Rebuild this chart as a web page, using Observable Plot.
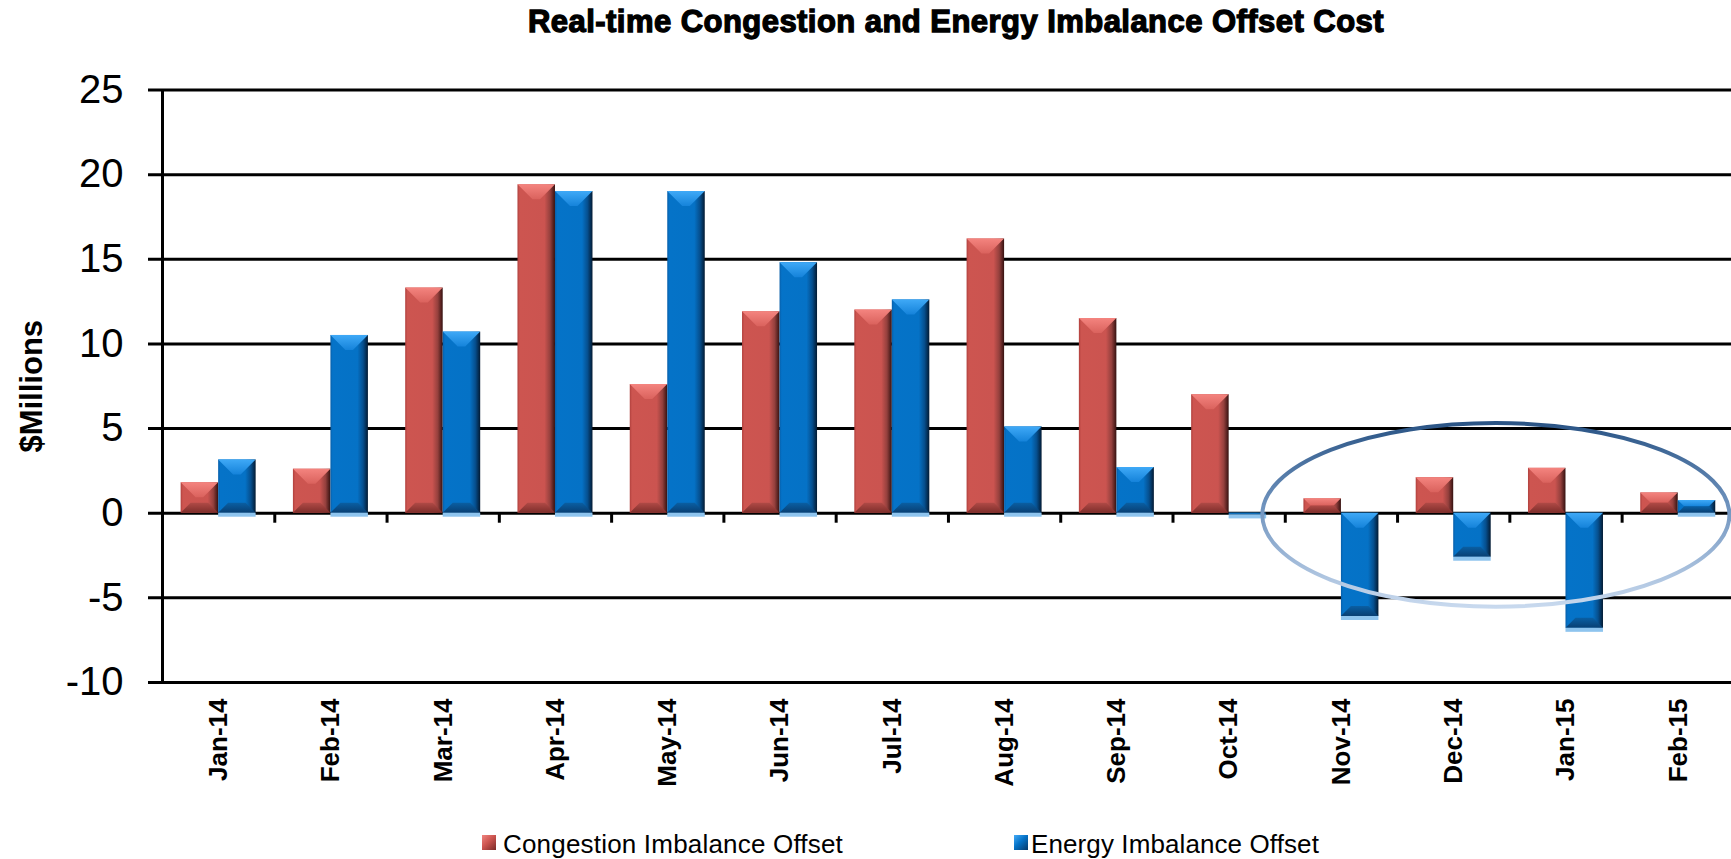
<!DOCTYPE html>
<html>
<head>
<meta charset="utf-8">
<script src="https://cdn.jsdelivr.net/npm/d3@7"></script>
<script src="https://cdn.jsdelivr.net/npm/@observablehq/plot@0.6"></script>
<style>
  html, body { margin: 0; padding: 0; background: #fff; }
  body { width: 1731px; height: 859px; overflow: hidden; font-family: "Liberation Sans", Arial, sans-serif; color: #000; }
  #title { position: relative; height: 50px; }
  #title span { position: absolute; left: 528px; top: 5.5px; font-size: 31px; line-height: 31px; font-weight: bold; white-space: nowrap; -webkit-text-stroke: 1.3px #000; }
  #chart { height: 770px; }
  #chart svg { max-width: none !important; display: block; }
  #legend { position: relative; height: 39px; }
  #legend .lg { position: absolute; top: 11px; font-size: 26px; line-height: 26px; white-space: nowrap; }
  #legend .sw { position: absolute; top: 15px; width: 14px; height: 15px; }
</style>
</head>
<body>
<div id="title"><span id="titleText"></span></div>
<div id="chart"></div>
<div id="legend"></div>
<script>
// ---------- data ----------
const months = ["Jan-14","Feb-14","Mar-14","Apr-14","May-14","Jun-14","Jul-14","Aug-14","Sep-14","Oct-14","Nov-14","Dec-14","Jan-15","Feb-15"];
const congestion = [1.8, 2.6, 13.3, 19.4, 7.6, 11.9, 12.0, 16.2, 11.5, 7.0, 0.85, 2.1, 2.65, 1.2];
const energy = [3.15, 10.5, 10.7, 19.0, 19.0, 14.8, 12.6, 5.1, 2.7, -0.1, -6.1, -2.6, -6.8, 0.75];
const seriesNames = ["Congestion Imbalance Offset", "Energy Imbalance Offset"];
const yTicks = [-10, -5, 0, 5, 10, 15, 20, 25];
const titleText = "Real-time Congestion and Energy Imbalance Offset Cost";
const yLabel = "$Millions";
// annotation ellipse (month + offset in category steps from its centre, value range)
const ellipseFrom = ["Oct-14", 0.3];
const ellipseTo = ["Feb-15", 0.46];
const ellipseY = [5.3, -5.55];

// ---------- layout ----------
const W = 1731, H = 770, mL = 162, mT = 39.5, mB = 138;
const xRange = [mL, 1733.9];
const step = (xRange[1] - xRange[0]) / months.length;
const padInner = 0.332;
const half = step * (1 - padInner) / 2;

const rows = months.map((m, i) => ({month: m, congestion: congestion[i], energy: energy[i]}));

const chart = Plot.plot({
  width: W, height: H,
  marginLeft: mL, marginRight: 0, marginTop: mT, marginBottom: mB,
  style: {fontFamily: "'Liberation Sans', Arial, sans-serif", color: "#000", background: "#fff", maxWidth: "none"},
  x: {domain: months, range: xRange, paddingInner: padInner, paddingOuter: padInner / 2, round: false},
  y: {domain: [yTicks[0], yTicks[yTicks.length - 1]]},
  marks: [
    Plot.ruleY(yTicks, {stroke: "#000", strokeWidth: 3, insetLeft: -14}),
    Plot.ruleX(months.slice(0, -1), {y1: 0, y2: 0, insetBottom: -10, dx: step / 2, stroke: "#000", strokeWidth: 3}),
    Plot.ruleX([months[0]], {y1: yTicks[0], y2: yTicks[yTicks.length - 1], dx: -step / 2, stroke: "#000", strokeWidth: 3}),
    Plot.barY(rows, {x: "month", y: "congestion", fill: "url(#gRed)", insetRight: half}),
    Plot.barY(rows, {x: "month", y: "energy", fill: "url(#gBlue)", insetLeft: half}),
    Plot.barY(rows, {x: "month", y1: d => Math.min(0, d.energy), y2: d => Math.min(0, d.energy), insetLeft: half, insetBottom: -4, fill: "#8EC4EE"}),
    Plot.axisY(yTicks, {anchor: "left", tickSize: 0, tickPadding: 39, fontSize: 40, tickFormat: d => String(d), label: null, stroke: "#000", strokeWidth: 0.6}),
    Plot.axisX({anchor: "bottom", tickSize: 0, tickPadding: 16, tickRotate: -90, fontSize: 26, fontWeight: "bold", label: null}),
    Plot.text([yLabel], {text: d => d, frameAnchor: "left", textAnchor: "middle", lineAnchor: "middle", rotate: -90, dx: -130, dy: 0, fontSize: 31, fontWeight: "bold"})
  ]
});
document.getElementById("chart").appendChild(chart);

// ---------- gradients ----------
const svg = d3.select(chart);
const defs = svg.insert("defs", ":first-child");
function grad(id, stops, vertical) {
  const g = defs.append("linearGradient").attr("id", id)
    .attr("x1", 0).attr("y1", 0).attr("x2", vertical ? 0 : 1).attr("y2", vertical ? 1 : 0);
  stops.forEach(([o, c, a]) => g.append("stop").attr("offset", o).attr("stop-color", c).attr("stop-opacity", a ?? 1));
}
grad("gRed", [[0, "#B0403D"], [0.06, "#CD5550"], [0.72, "#CB5450"], [0.87, "#94403D"], [1, "#351110"]]);
grad("gBlue", [[0, "#085FAA"], [0.06, "#0573C8"], [0.72, "#0572C6"], [0.87, "#064F8E"], [1, "#031A32"]]);
grad("gRedTop", [[0, "#F4847F"], [1, "#DA625D"]], true);
grad("gBlueTop", [[0, "#3FA9F7"], [1, "#1583DA"]], true);
grad("gRedBot", [[0, "#B04A46"], [1, "#7E2E2B"]], true);
grad("gBlueBot", [[0, "#0A5FA3"], [1, "#083F73"]], true);
grad("gEll", [[0, "#2A5485"], [0.45, "#6F93BE"], [1, "#C8D9EE"]], true);

// ---------- bevel faces on the bars drawn by Plot ----------
const barGroups = svg.selectAll('g[aria-label="bar"]').nodes();
function bevel(node, topFill, botFill) {
  if (!node) return;
  const faces = d3.create("svg:g").attr("aria-hidden", "true");
  d3.select(node).selectAll("rect").each(function () {
    const x = +this.getAttribute("x"), y = +this.getAttribute("y");
    const w = +this.getAttribute("width"), h = +this.getAttribute("height");
    const ct = Math.min(15, h / 2), cb = Math.min(10, h / 2);
    faces.append("polygon").attr("points", [[x, y], [x + w, y], [x + w - ct, y + ct], [x + ct, y + ct]].join(" ")).attr("fill", topFill);
    faces.append("polygon").attr("points", [[x + cb, y + h - cb], [x + w - cb, y + h - cb], [x + w, y + h], [x, y + h]].join(" ")).attr("fill", botFill);
  });
  node.after(faces.node());
}
bevel(barGroups[0], "url(#gRedTop)", "url(#gRedBot)");
bevel(barGroups[1], "url(#gBlueTop)", "url(#gBlueBot)");

// ---------- annotation ellipse through the plot's scales ----------
const xs = chart.scale("x"), ys = chart.scale("y");
const bw = xs.bandwidth ?? step * (1 - padInner);
const st = xs.step ?? step;
const xc = m => xs.apply(m) + bw / 2;
const ex1 = xc(ellipseFrom[0]) + ellipseFrom[1] * st;
const ex2 = xc(ellipseTo[0]) + ellipseTo[1] * st;
const ey1 = ys.apply(ellipseY[0]), ey2 = ys.apply(ellipseY[1]);
svg.append("ellipse")
  .attr("cx", (ex1 + ex2) / 2).attr("cy", (ey1 + ey2) / 2)
  .attr("rx", (ex2 - ex1) / 2).attr("ry", Math.abs(ey2 - ey1) / 2)
  .attr("fill", "none").attr("stroke", "url(#gEll)").attr("stroke-width", 4);

// ---------- title ----------
function fit(el, target) {
  el.style.letterSpacing = "0px";
  const w = el.getBoundingClientRect().width;
  const n = el.textContent.length;
  el.style.letterSpacing = ((target - w) / n) + "px";
}
const t = document.getElementById("titleText");
t.textContent = titleText;
fit(t, 856);

// ---------- legend ----------
const legend = document.getElementById("legend");
const legendItems = [
  {name: seriesNames[0], sw: 482, tx: 503, width: 340, bg: "linear-gradient(135deg, #F08580 0%, #CD5550 45%, #7A2A28 100%)"},
  {name: seriesNames[1], sw: 1014, tx: 1031, width: 288, bg: "linear-gradient(135deg, #45ABF7 0%, #0573C8 45%, #063868 100%)"}
];
legendItems.forEach(it => {
  const s = document.createElement("div");
  s.className = "sw"; s.style.left = it.sw + "px"; s.style.background = it.bg;
  legend.appendChild(s);
  const l = document.createElement("span");
  l.className = "lg"; l.style.left = it.tx + "px"; l.textContent = it.name;
  legend.appendChild(l);
  fit(l, it.width);
});
</script>
</body>
</html>
